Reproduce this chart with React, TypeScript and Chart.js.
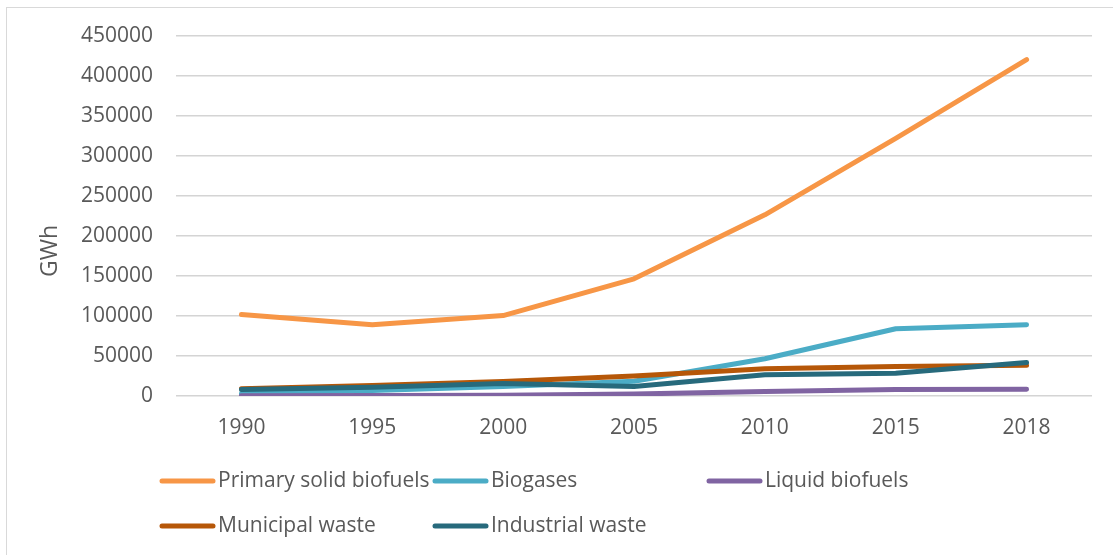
import React, { useEffect, useRef } from "react";
import { Chart, registerables } from "chart.js";

Chart.register(...registerables);

const categories = ["1990", "1995", "2000", "2005", "2010", "2015", "2018"];
const primarySolid = [102000, 89000, 100500, 146500, 226500, 322000, 420500];
const biogases = [3000, 7000, 12000, 18500, 46500, 84000, 89000];
const liquidBiofuels = [300, 600, 900, 2500, 5500, 8000, 8300];
const municipalWaste = [9000, 13000, 18000, 25000, 34000, 37000, 38500];
const industrialWaste = [8000, 11000, 15500, 12000, 26500, 28500, 42000];
const seriesNames = ["Primary solid biofuels", "Biogases", "Liquid biofuels", "Municipal waste", "Industrial waste"];
const seriesColors = ["#F79646", "#4BACC6", "#8064A2", "#B65708", "#276A7C"];
const yTitle = "GWh";

const FONT = "'Open Sans', sans-serif";
const TEXT = "#595959";

const decorPlugin = {
  id: "decor",
  beforeDraw(chart: any) {
    const ctx = chart.ctx;
    ctx.save();
    ctx.fillStyle = "#ffffff";
    ctx.fillRect(0, 0, chart.width, chart.height);
    ctx.strokeStyle = "#d9d9d9";
    ctx.lineWidth = 1;
    ctx.strokeRect(6.5, 7.5, 1200, 1000);
    ctx.restore();
  },
  afterDraw(chart: any) {
    const ctx = chart.ctx;
    ctx.save();
    ctx.translate(50, 251);
    ctx.rotate(-Math.PI / 2);
    ctx.fillStyle = TEXT;
    ctx.font = `23px ${FONT}`;
    ctx.textAlign = "center";
    ctx.textBaseline = "middle";
    ctx.fillText(yTitle, 0, 0);
    ctx.restore();

    const cols = [160, 433, 707];
    const rows = [481, 526];
    const perRow = 3;
    chart.data.datasets.forEach((ds: any, i: number) => {
      const x = cols[i % perRow];
      const y = rows[Math.floor(i / perRow)];
      ctx.save();
      ctx.strokeStyle = ds.borderColor;
      ctx.lineWidth = 5;
      ctx.lineCap = "round";
      ctx.beginPath();
      ctx.moveTo(x + 2, y);
      ctx.lineTo(x + 53, y);
      ctx.stroke();
      ctx.fillStyle = TEXT;
      ctx.font = `21px ${FONT}`;
      ctx.textAlign = "left";
      ctx.textBaseline = "middle";
      ctx.fillText(ds.label, x + 58, y);
      ctx.restore();
    });
  },
};

export default function App() {
  const ref = useRef<HTMLCanvasElement | null>(null);
  useEffect(() => {
    if (!ref.current) return;
    const values = [primarySolid, biogases, liquidBiofuels, municipalWaste, industrialWaste];
    const chart = new Chart(ref.current, {
      type: "line",
      data: {
        labels: categories,
        datasets: values.map((v, i) => ({
          label: seriesNames[i],
          data: v,
          borderColor: seriesColors[i],
          backgroundColor: seriesColors[i],
          borderWidth: 5,
          borderCapStyle: "round",
          borderJoinStyle: "round",
          pointRadius: 0,
          tension: 0,
          fill: false,
          order: 5 - i,
        })),
      },
      options: {
        animation: false,
        responsive: false,
        maintainAspectRatio: false,
        layout: { padding: { left: 0, right: 21, top: 36, bottom: 109 } },
        plugins: { legend: { display: false }, tooltip: { enabled: false }, title: { display: false } },
        scales: {
          x: {
            type: "category",
            offset: true,
            grid: { display: false, drawTicks: false },
            border: { display: false },
            ticks: { color: TEXT, font: { family: FONT, size: 21 }, padding: 19, maxRotation: 0 },
            afterFit: (s: any) => { s.height = 50; },
          },
          y: {
            min: 0,
            max: 450000,
            grid: { color: "#d4d4d4", lineWidth: 1.5, drawTicks: false },
            border: { display: false },
            ticks: {
              stepSize: 50000,
              color: TEXT,
              font: { family: FONT, size: 21 },
              padding: 23,
              callback: (v: any) => String(v),
            },
            afterFit: (s: any) => { s.width = 176; },
          },
        },
      },
      plugins: [decorPlugin],
    } as any);
    return () => chart.destroy();
  }, []);
  return (
    <div style={{ position: "absolute", left: 0, top: 0, width: 1113, height: 555 }}>
      <canvas ref={ref} width={1113} height={555} style={{ display: "block" }} />
    </div>
  );
}
